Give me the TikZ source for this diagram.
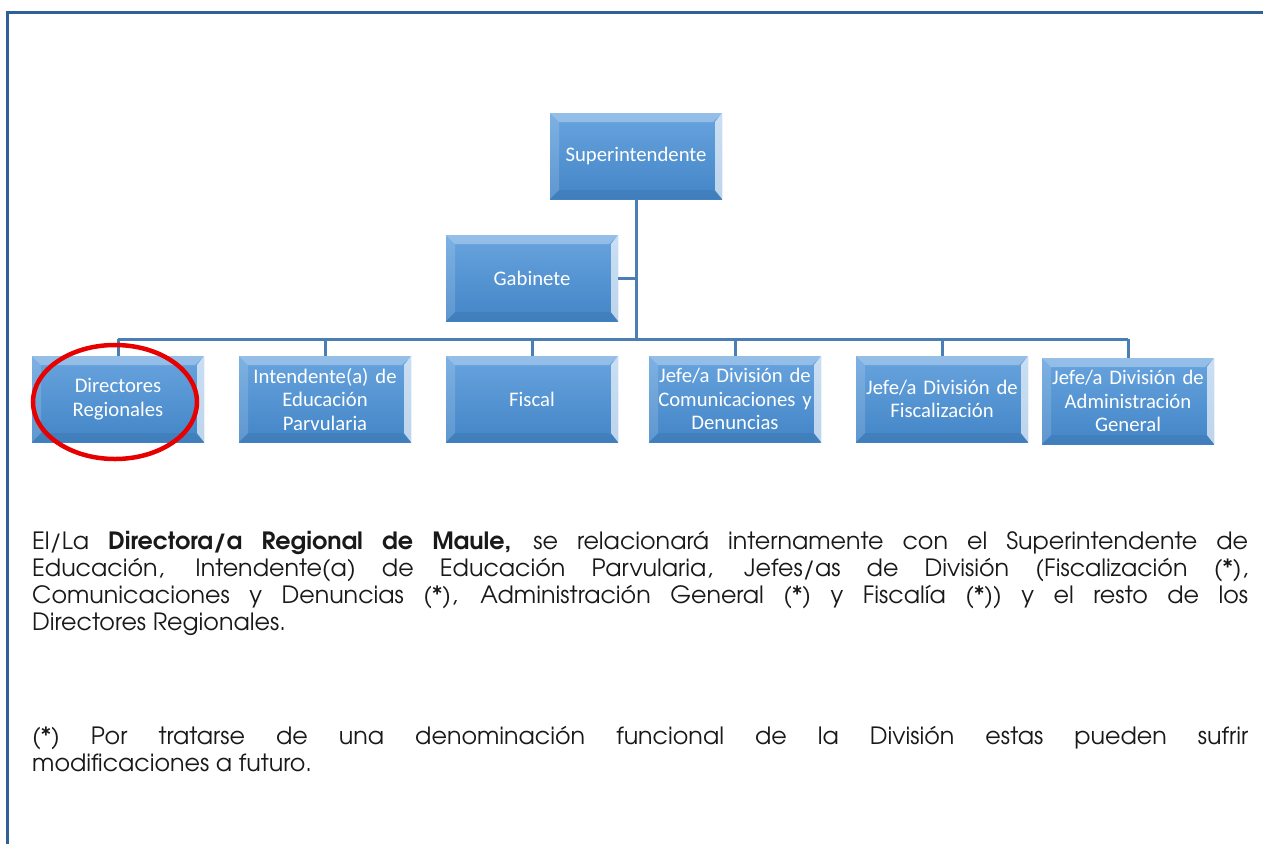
\documentclass[tikz,border=0pt]{standalone}
\usepackage{fontspec}
\setmainfont{TeX Gyre Adventor}
\newfontfamily\boxfont{Carlito}
\usetikzlibrary{calc}
\definecolor{frameblue}{HTML}{2F6096}
\definecolor{linkblue}{HTML}{4A7EB4}
\definecolor{boxtop}{HTML}{68A4DE}
\definecolor{boxbot}{HTML}{4385C7}
\definecolor{ringred}{HTML}{E60000}
\tikzset{
  orgbox/.style={minimum width=172pt, minimum height=86pt, text width=170pt,
    align=center, inner sep=0pt, text=white,
    font=\boxfont\fontsize{20.7}{23.5}\selectfont,
    top color=boxtop, bottom color=boxbot,
    path picture={
      \coordinate (nw) at (path picture bounding box.north west);
      \coordinate (ne) at (path picture bounding box.north east);
      \coordinate (sw) at (path picture bounding box.south west);
      \coordinate (se) at (path picture bounding box.south east);
      \fill[white,opacity=0.30] (nw) -- (ne) -- ([shift={(-9pt,-9pt)}]ne) -- ([shift={(9pt,-9pt)}]nw) -- cycle;
      \fill[white,opacity=0.15] (nw) -- ([shift={(9pt,-9pt)}]nw) -- ([shift={(9pt,9pt)}]sw) -- (sw) -- cycle;
      \fill[white,opacity=0.65] (ne) -- ([shift={(-7pt,-9pt)}]ne) -- ([shift={(-7pt,9pt)}]se) -- (se) -- cycle;
      \fill[black,opacity=0.06] (sw) -- ([shift={(9pt,9pt)}]sw) -- ([shift={(-9pt,9pt)}]se) -- (se) -- cycle;
    }},
  link/.style={draw=linkblue, line width=3pt},
  frameline/.style={draw=frameblue, line width=3pt},
  para/.style={anchor=north west, inner sep=0pt, text width=1216pt, align=justify,
    font=\fontsize{23.8}{27}\selectfont, text=black!90}
}
\begin{document}
\begin{tikzpicture}[x=1pt,y=-1pt]
\useasboundingbox (0,0) rectangle (1263,844);
\draw[frameline] (7,844) -- (7,12) -- (1263,12);

\node[orgbox] (sup) at (636,156) {Superintendente};
\node[orgbox] (gab) at (532,278) {Gabinete};
\node[orgbox] (dir) at (118,399) {Directores\\Regionales};
\node[orgbox] (int) at (325,399) {Intendente(a) de\\Educación\\Parvularia};
\node[orgbox] (fis) at (532,399) {Fiscal};
\node[orgbox] (com) at (735,399) {Jefe/a División de\\Comunicaciones y\\Denuncias};
\node[orgbox] (fsc) at (942,399) {Jefe/a División de\\Fiscalización};
\node[orgbox] (adm) at (1128,401) {Jefe/a División de\\Administración\\General};

\coordinate (bus) at (0,339);
\draw[link] (sup.south) -- (sup.south |- bus);
\draw[link] (gab.east) -- (gab.east -| sup.south);
\draw[link] (dir.north |- bus) -- (adm.north |- bus);
\foreach \n in {dir,int,fis,com,fsc,adm} \draw[link] (\n.north |- bus) -- (\n.north);

\draw[ringred, line width=4.5pt] (115,402) ellipse [x radius=82, y radius=57];

\node[para] (p1) at (32,531) {El/La \textbf{Directora/a Regional de Maule,} se relacionará internamente con el Superintendente de\linebreak
Educación, Intendente(a) de Educación Parvularia, Jefes/as de División (Fiscalización (*),\linebreak
Comunicaciones y Denuncias (*), Administración General (*) y Fiscalía (*)) y el resto de los\linebreak
Directores Regionales.};
\node[para] (p2) at (32,726) {(*) Por tratarse de una denominación funcional de la División estas pueden sufrir\linebreak
modificaciones a futuro.};
\end{tikzpicture}
\end{document}
